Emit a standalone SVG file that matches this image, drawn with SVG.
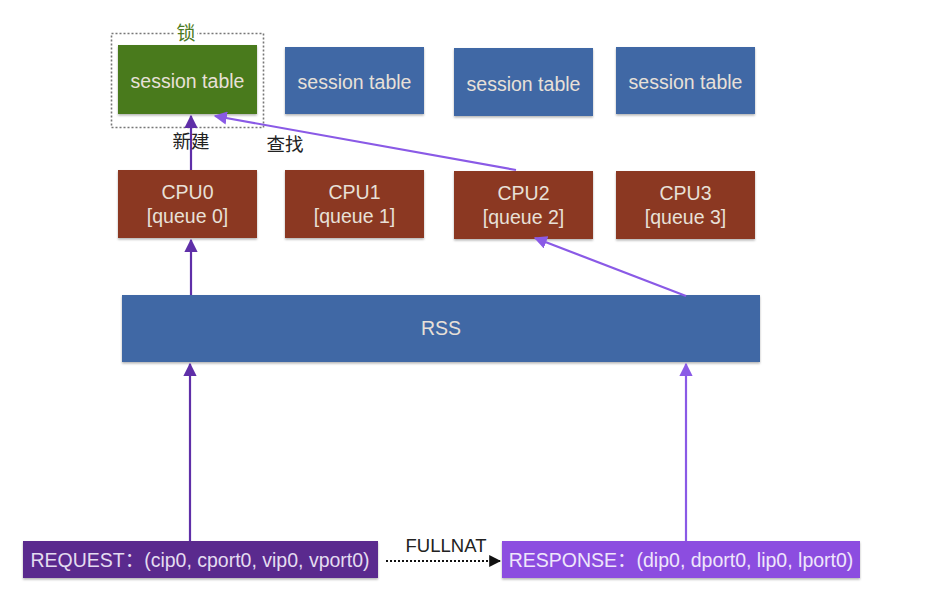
<svg xmlns="http://www.w3.org/2000/svg" width="944" height="612" viewBox="0 0 944 612">
<defs>
<style>
.t{font-family:"Liberation Sans","Noto Sans CJK SC",sans-serif;font-size:19.5px;text-anchor:middle;}
.wt{fill:#e8e0d8;}
.blue{fill:#3f67a5;}
.cpu{fill:#8b3823;}
.lbl{font-family:"Liberation Sans","Noto Sans CJK SC",sans-serif;font-size:18.5px;fill:#222;text-anchor:middle;}
.arr{stroke:#5f2fa8;stroke-width:2.2;fill:none;}
.arr2{stroke:#8a5ae6;stroke-width:2.2;fill:none;}
</style>
<marker id="ah" viewBox="0 0 10 10" refX="9" refY="5" markerWidth="6" markerHeight="6" orient="auto"><path d="M0,0 L10,5 L0,10 z" fill="#5f2fa8"/></marker>
<marker id="ah2" viewBox="0 0 10 10" refX="9" refY="5" markerWidth="6" markerHeight="6" orient="auto"><path d="M0,0 L10,5 L0,10 z" fill="#8a5ae6"/></marker>
<marker id="ahb" viewBox="0 0 10 10" refX="9" refY="5" markerWidth="6" markerHeight="6" orient="auto"><path d="M0,0 L10,5 L0,10 z" fill="#111"/></marker>
<filter id="sh" x="-5%" y="-5%" width="110%" height="120%"><feDropShadow dx="0" dy="1.5" stdDeviation="1.2" flood-color="#000" flood-opacity="0.3"/></filter>
</defs>
<rect width="944" height="612" fill="#fff"/>

<g id="lock">
<rect x="111.5" y="33.5" width="152" height="94" fill="none" stroke="#777" stroke-width="1.6" stroke-dasharray="2,2"/>
<rect x="175" y="22" width="22" height="20" fill="#fff"/>
<text x="186" y="40" class="t" style="fill:#4c7a23;font-size:19px">锁</text>
</g>

<g id="st0"><rect x="118" y="45" width="139" height="69" fill="#4a7a1f" filter="url(#sh)"/><text x="187.5" y="88" class="t wt">session table</text></g>
<g id="st1"><rect x="285" y="47" width="139" height="67" class="blue" filter="url(#sh)"/><text x="354.5" y="89" class="t wt">session table</text></g>
<g id="st2"><rect x="454" y="48" width="139" height="68" class="blue" filter="url(#sh)"/><text x="523.5" y="91" class="t wt">session table</text></g>
<g id="st3"><rect x="616" y="47" width="139" height="67" class="blue" filter="url(#sh)"/><text x="685.5" y="89" class="t wt">session table</text></g>

<g id="cpu0"><rect x="118" y="170" width="139" height="68" class="cpu" filter="url(#sh)"/><text x="187.5" y="199" class="t wt">CPU0</text><text x="187.5" y="223" class="t wt">[queue 0]</text></g>
<g id="cpu1"><rect x="285" y="170" width="139" height="68" class="cpu" filter="url(#sh)"/><text x="354.5" y="199" class="t wt">CPU1</text><text x="354.5" y="223" class="t wt">[queue 1]</text></g>
<g id="cpu2"><rect x="454" y="171" width="139" height="68" class="cpu" filter="url(#sh)"/><text x="523.5" y="200" class="t wt">CPU2</text><text x="523.5" y="224" class="t wt">[queue 2]</text></g>
<g id="cpu3"><rect x="616" y="171" width="139" height="68" class="cpu" filter="url(#sh)"/><text x="685.5" y="200" class="t wt">CPU3</text><text x="685.5" y="224" class="t wt">[queue 3]</text></g>

<g id="rss"><rect x="122" y="295" width="638" height="67" class="blue" filter="url(#sh)"/><text x="441" y="335" class="t wt">RSS</text></g>

<g id="request"><rect x="23" y="541" width="355" height="37" fill="#5a2b8e" filter="url(#sh)"/><text x="200" y="567" class="t" style="fill:#e4dcf0">REQUEST：(cip0, cport0, vip0, vport0)</text></g>
<g id="response"><rect x="502" y="541" width="358" height="37" fill="#8c4ee0" filter="url(#sh)"/><text x="681" y="567" class="t" style="fill:#efe6fb">RESPONSE：(dip0, dport0, lip0, lport0)</text></g>

<g id="connectors">
<line x1="191" y1="170" x2="191" y2="116" class="arr" marker-end="url(#ah)"/>
<line x1="191" y1="295" x2="191" y2="240" class="arr" marker-end="url(#ah)"/>
<line x1="190" y1="541" x2="190" y2="364" class="arr" marker-end="url(#ah)"/>
<line x1="686" y1="541" x2="686" y2="364" class="arr2" marker-end="url(#ah2)"/>
<line x1="686" y1="296" x2="535" y2="238" class="arr2" marker-end="url(#ah2)"/>
<line x1="516" y1="170" x2="215" y2="116" class="arr2" marker-end="url(#ah2)"/>
<line x1="386" y1="561" x2="500" y2="561" stroke="#111" stroke-width="2" stroke-dasharray="2,2" marker-end="url(#ahb)"/>
<text x="191" y="148" class="lbl">新建</text>
<text x="285" y="151" class="lbl">查找</text>
<text x="446" y="552" class="lbl">FULLNAT</text>
</g>
</svg>
